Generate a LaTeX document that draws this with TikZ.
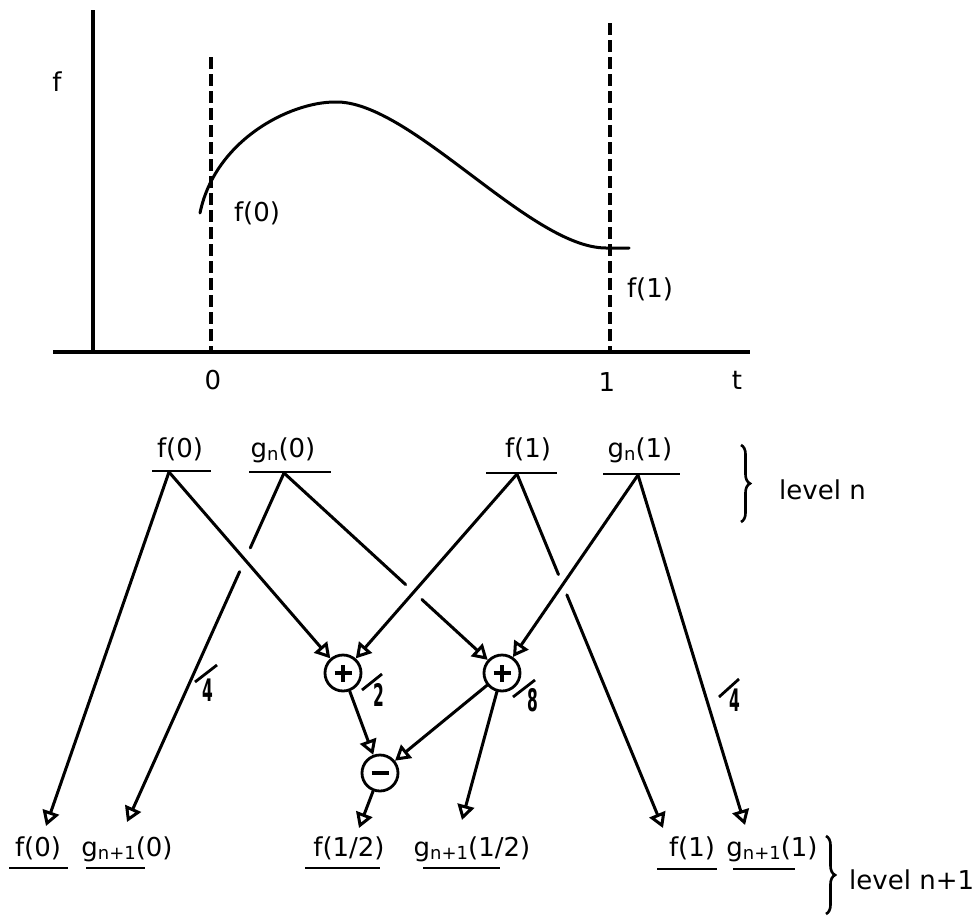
\documentclass[tikz,border=0pt]{standalone}
\usepackage{fontspec}
\usepackage{graphicx}
\setmainfont{DejaVu Sans}
\usetikzlibrary{arrows.meta,calc,intersections,decorations.pathreplacing}
\newcommand\gsub[1]{\raisebox{-3pt}{\fontsize{18}{18}\selectfont #1}}
\newcommand\cdigit[1]{\scalebox{0.5}[1]{\fontsize{31}{31}\selectfont\bfseries #1}}
\begin{document}
\begin{tikzpicture}[x=1pt,y=-1pt,
  every node/.style={font=\fontsize{26}{29}\selectfont, inner sep=0pt},
  ln/.style={line width=3pt, line cap=round},
  axisline/.style={line width=3.2pt},
  dashline/.style={line width=3.2pt, dash pattern=on 12pt off 5pt},
  tri/.style={-{Triangle[length=15pt,width=17pt,fill=white]}},
  ulstyle/.style={line width=2.6pt},
  lab/.style={anchor=base},
  op/.style={circle, draw, line width=2.8pt, minimum size=36pt, inner sep=0pt},
  plus/.style={path picture={\draw[line width=3.2pt]
      ([xshift=-8.5pt]path picture bounding box.center) -- ([xshift=8.5pt]path picture bounding box.center)
      ([yshift=-8.5pt]path picture bounding box.center) -- ([yshift=8.5pt]path picture bounding box.center);}},
  minus/.style={path picture={\draw[line width=4pt]
      ([xshift=-8.5pt]path picture bounding box.center) -- ([xshift=8.5pt]path picture bounding box.center);}},
  slashln/.style={line width=2.8pt},
  bracestyle/.style={decorate, decoration={brace, amplitude=9pt}, line width=2.6pt},
]
\useasboundingbox (0,0) rectangle (978,916);

% ---------- top plot ----------
\draw[axisline] (93,10) -- (93,350);
\draw[axisline] (53,352) -- (750,352);
\draw[dashline] (211,57) -- (211,352);
\draw[dashline] (610,23) -- (610,352);
\draw[ln] (200,213) .. controls (215,140) and (290,102) .. (335,102)
          .. controls (410,100) and (530,248) .. (606,248) -- (629,248);
\node (lf) at (57,82) {f};
\node (lf0) at (257,213) {f(0)};
\node (lf1) at (650,289) {f(1)};
\node (t0) at (213,380) {0};
\node (t1) at (607,382) {1};
\node (tt) at (737,380) {t};

% ---------- level n ----------
\node[lab] (tf0) at (180,457) {f(0)};
\node[lab] (tg0) at (283,457) {g\gsub{n}(0)};
\node[lab] (tf1) at (528,457) {f(1)};
\node[lab] (tg1) at (640,457) {g\gsub{n}(1)};
\draw[ulstyle] ($(tf0.base)+(-28,14)$) -- ($(tf0.base)+(31,14)$);
\draw[ulstyle] ($(tg0.base)+(-34,15)$) -- ($(tg0.base)+(48,15)$);
\draw[ulstyle] ($(tf1.base)+(-42,16)$) -- ($(tf1.base)+(29,16)$);
\draw[ulstyle] ($(tg1.base)+(-37,17)$) -- ($(tg1.base)+(40,17)$);
\coordinate (sf0) at ($(tf0.base)+(-11,15)$);
\coordinate (sg0) at ($(tg0.base)+(1,16)$);
\coordinate (sf1) at ($(tf1.base)+(-11,17)$);
\coordinate (sg1) at ($(tg1.base)+(-2,18)$);
\draw[bracestyle] (741,445) -- (741,522);
\node[anchor=west] (lvn) at (779,490) {level n};

% ---------- level n+1 ----------
\node[lab] (bf0) at (38,856) {f(0)};
\node[lab] (bg0) at (127,856) {g\gsub{n+1}(0)};
\node[lab] (bf12) at (349,856) {f(1/2)};
\node[lab] (bg12) at (472,856) {g\gsub{n+1}(1/2)};
\node[lab] (bf1) at (692,856) {f(1)};
\node[lab] (bg1) at (772,856) {g\gsub{n+1}(1)};
\draw[ulstyle] ($(bf0.base)+(-29,12)$) -- ($(bf0.base)+(30,12)$);
\draw[ulstyle] ($(bg0.base)+(-41,12)$) -- ($(bg0.base)+(18,12)$);
\draw[ulstyle] ($(bf12.base)+(-44,12)$) -- ($(bf12.base)+(31,12)$);
\draw[ulstyle] ($(bg12.base)+(-49,12)$) -- ($(bg12.base)+(28,12)$);
\draw[ulstyle] ($(bf1.base)+(-35,13)$) -- ($(bf1.base)+(25,13)$);
\draw[ulstyle] ($(bg1.base)+(-39,13)$) -- ($(bg1.base)+(23,13)$);
\coordinate (ef0) at ($(bf0.base)+(8,-30)$);
\coordinate (eg0) at ($(bg0.base)+(0,-34)$);
\coordinate (ef12) at ($(bf12.base)+(10,-28)$);
\coordinate (eg12) at ($(bg12.base)+(-10,-36)$);
\coordinate (ef1) at ($(bf1.base)+(-29,-28)$);
\coordinate (eg1) at ($(bg1.base)+(-27,-31)$);
\draw[bracestyle] (826,836) -- (826,914);
\node[anchor=west] (lvn1) at (849,880) {level n+1};

% ---------- operators ----------
\node[op, plus] (p1) at (343,673) {};
\node[op, plus] (p2) at (502,673) {};
\node[op, minus] (m) at (380,773) {};

% ---------- connectors ----------
\draw[ln,tri] (sf0) -- (ef0);
\draw[ln,tri,name path=cA] (sf0) -- (p1);
\draw[ln,tri,name path=cB] (sf1) -- (p1);
\draw[ln,tri,name path=cC] (sg1) -- (p2);
\draw[ln,tri] (sg1) -- (eg1);
\path[name path=uA] (sg0) -- (eg0);
\path[name path=uB] (sg0) -- (p2);
\path[name path=uC] (sf1) -- (ef1);
\path[name intersections={of=cA and uA, by=xA}];
\path[name intersections={of=cB and uB, by=xB}];
\path[name intersections={of=cC and uC, by=xC}];
\draw[ln] (sg0) -- ($(xA)!13pt!(sg0)$);
\draw[ln,tri] ($(xA)!13pt!(eg0)$) -- (eg0);
\draw[ln] (sg0) -- ($(xB)!11pt!(sg0)$);
\draw[ln,tri] ($(xB)!11pt!(p2)$) -- (p2);
\draw[ln] (sf1) -- ($(xC)!11pt!(sf1)$);
\draw[ln,tri] ($(xC)!11pt!(ef1)$) -- (ef1);
\draw[ln,tri] (p1) -- (m);
\draw[ln,tri] (p2) -- (m);
\draw[ln,tri] (m) -- (ef12);
\draw[ln,tri] (p2) -- (eg12);

% ---------- scale factors ----------
\node (d2) at (379,695) {\cdigit{2}};
\node (d8) at (533,700) {\cdigit{8}};
\node (d4a) at (208,690) {\cdigit{4}};
\node (d4b) at (735,700) {\cdigit{4}};
\draw[slashln] ($(d2)+(-17,-5)$) -- ($(d2)+(3,-21)$);
\draw[slashln] ($(d8)+(-20,-3)$) -- ($(d8)+(2,-20)$);
\draw[slashln] ($(d4a)+(-13,-8)$) -- ($(d4a)+(9,-25)$);
\draw[slashln] ($(d4b)+(-16,-3)$) -- ($(d4b)+(4,-21)$);
\end{tikzpicture}
\end{document}
